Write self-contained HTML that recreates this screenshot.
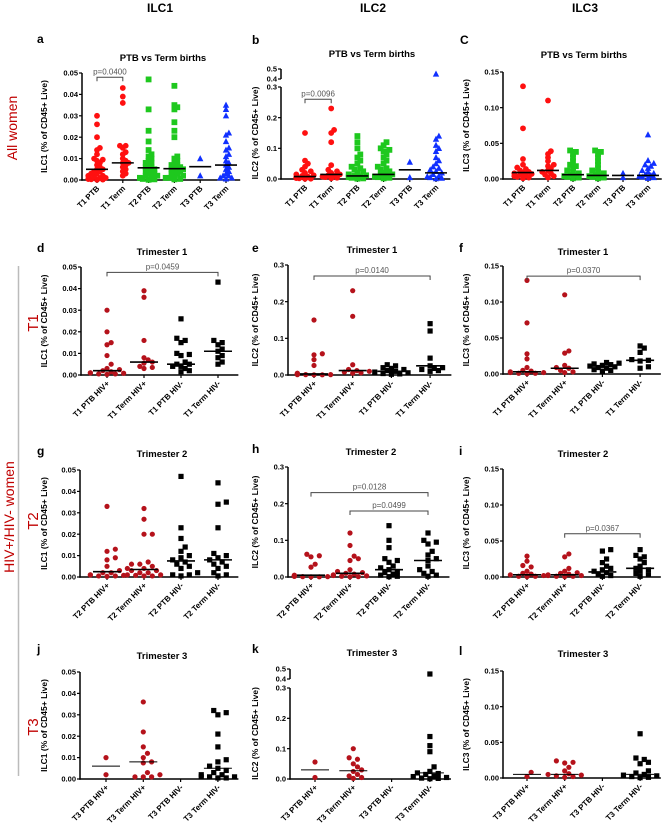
<!DOCTYPE html>
<html><head><meta charset="utf-8">
<style>
html,body{margin:0;padding:0;background:#fff;}
svg{display:block;font-family:"Liberation Sans",Arial,sans-serif;}
</style></head>
<body>
<svg id="fig" width="667" height="828" viewBox="0 0 667 828" xmlns="http://www.w3.org/2000/svg">
<text x="160" y="12" font-size="12" font-weight="bold" text-anchor="middle">ILC1</text>
<text x="373" y="12" font-size="12" font-weight="bold" text-anchor="middle">ILC2</text>
<text x="585" y="12" font-size="12" font-weight="bold" text-anchor="middle">ILC3</text>
<text transform="translate(17,128) rotate(-90)" font-size="14" fill="#c00000" text-anchor="middle">All women</text>
<text transform="translate(14,517) rotate(-90)" font-size="14" fill="#c00000" text-anchor="middle">HIV+/HIV- women</text>
<line x1="18.5" y1="266" x2="18.5" y2="776" stroke="#bbb" stroke-width="1.5"/>
<text transform="translate(38,323) rotate(-90)" font-size="15" fill="#c00000" text-anchor="middle">T1</text>
<text transform="translate(38,521) rotate(-90)" font-size="15" fill="#c00000" text-anchor="middle">T2</text>
<text transform="translate(38,727) rotate(-90)" font-size="15" fill="#c00000" text-anchor="middle">T3</text>
</svg>
<script>
// ---------- DATA ----------
const catsAll1 = ["T1 PTB","T1 Term","T2 PTB","T2 Term","T3 PTB","T3 Term"];
const catsT1 = ["T1 PTB HIV+","T1 Term HIV+","T1 PTB HIV-","T1 Term HIV-"];
const catsT2 = ["T2 PTB HIV+","T2 Term HIV+","T2 PTB HIV-","T2 Term HIV-"];
const catsT3 = ["T3 PTB HIV+","T3 Term HIV+","T3 PTB HIV-","T3 Term HIV-"];
const ticksILC1 = ["0.00","0.01","0.02","0.03","0.04","0.05"];
const ticksILC2 = ["0.0","0.1","0.2","0.3"];
const ticksILC2Break = ["0.4","0.5"];
const ticksILC3 = ["0.00","0.05","0.10","0.15"];

const aValues = [
 [0.030,0.026,0.020,0.015,0.014,0.012,0.010,0.0095,0.009,0.008,0.007,0.006,0.005,0.005,0.004,0.004,0.003,0.003,0.002,0.002,0.0015,0.001,0.001,0.0005,0.0005,0.0003,0.0002,0.0001],
 [0.043,0.039,0.036,0.016,0.016,0.015,0.013,0.012,0.010,0.009,0.008,0.008,0.007,0.006,0.005,0.004,0.003,0.002],
 [0.047,0.033,0.023,0.018,0.014,0.012,0.011,0.010,0.009,0.008,0.008,0.007,0.006,0.006,0.005,0.005,0.004,0.004,0.003,0.003,0.002,0.002,0.0015,0.001,0.001,0.0005,0.0003,0.0001],
 [0.044,0.035,0.034,0.033,0.027,0.023,0.020,0.011,0.010,0.009,0.008,0.007,0.007,0.006,0.006,0.005,0.005,0.005,0.004,0.004,0.003,0.003,0.002,0.002,0.001,0.001,0.0005,0.0003],
 [0.010,0.002],
 [0.035,0.033,0.030,0.022,0.021,0.018,0.015,0.014,0.012,0.011,0.009,0.008,0.007,0.006,0.005,0.004,0.003,0.002,0.002,0.001,0.001,0.0005]];
const aMedians = [0.005,0.008,0.0057,0.0053,0.0062,0.007];
const bValues = [
 [0.15,0.06,0.05,0.04,0.03,0.025,0.02,0.015,0.012,0.01,0.008,0.006,0.005,0.004,0.003,0.002,0.001,0.0005],
 [0.23,0.16,0.15,0.12,0.045,0.03,0.025,0.02,0.015,0.012,0.01,0.008,0.006,0.004,0.002],
 [0.14,0.12,0.10,0.08,0.07,0.06,0.05,0.04,0.035,0.03,0.025,0.02,0.015,0.012,0.01,0.008,0.006,0.004,0.002,0.001],
 [0.12,0.11,0.10,0.095,0.09,0.08,0.07,0.06,0.05,0.04,0.035,0.03,0.025,0.02,0.015,0.012,0.01,0.008,0.006,0.004,0.002],
 [0.055,0.005],
 [0.45,0.14,0.13,0.11,0.10,0.09,0.07,0.06,0.05,0.04,0.035,0.03,0.025,0.02,0.015,0.01,0.008,0.005,0.003,0.001]];
const bMedians = [0.008,0.015,0.01,0.015,0.03,0.02];
const cValues = [
 [0.13,0.071,0.028,0.02,0.016,0.014,0.012,0.01,0.009,0.008,0.007,0.006,0.005,0.004,0.003,0.002,0.001],
 [0.11,0.039,0.035,0.03,0.025,0.02,0.018,0.015,0.012,0.01,0.008,0.006,0.004,0.002],
 [0.04,0.038,0.035,0.03,0.025,0.02,0.018,0.015,0.012,0.01,0.008,0.006,0.005,0.004,0.003,0.002,0.001],
 [0.04,0.038,0.035,0.03,0.025,0.02,0.015,0.012,0.01,0.008,0.006,0.005,0.004,0.003,0.002,0.001],
 [0.008,0.002],
 [0.062,0.026,0.022,0.02,0.018,0.015,0.012,0.01,0.008,0.006,0.005,0.004,0.003,0.002,0.001]];
const cMedians = [0.009,0.012,0.006,0.005,0.005,0.005];
const dValues = [
 [0.030,0.020,0.015,0.014,0.009,0.005,0.003,0.0025,0.002,0.0015,0.001,0.001,0.0008,0.0005,0.0005,0.0003],
 [0.039,0.036,0.016,0.008,0.007,0.006,0.0055,0.004,0.0035,0.003],
 [0.026,0.017,0.016,0.015,0.010,0.0095,0.009,0.006,0.005,0.005,0.004,0.004,0.003,0.002,0.0015],
 [0.043,0.016,0.015,0.014,0.012,0.011,0.009,0.008,0.006,0.005]];
const dMedians = [0.002,0.006,0.005,0.011];
const eValues = [
 [0.15,0.058,0.055,0.042,0.026,0.005,0.004,0.003,0.002,0.002,0.001,0.001,0.001,0.0005,0.0005],
 [0.23,0.16,0.028,0.015,0.012,0.01,0.008,0.006,0.005],
 [0.028,0.025,0.02,0.018,0.015,0.012,0.01,0.008,0.006,0.004,0.003,0.002],
 [0.14,0.12,0.046,0.025,0.02,0.018,0.015,0.012,0.01]];
const eMedians = [0.003,0.012,0.01,0.025];
const fValues = [
 [0.13,0.071,0.028,0.021,0.009,0.005,0.004,0.003,0.002,0.002,0.001,0.001,0.0005],
 [0.11,0.032,0.029,0.012,0.009,0.008,0.005,0.003,0.002],
 [0.016,0.015,0.014,0.013,0.012,0.011,0.01,0.009,0.008,0.006,0.005,0.004],
 [0.039,0.036,0.03,0.02,0.019,0.018,0.01,0.008]];
const fMedians = [0.003,0.008,0.011,0.019];
const gValues = [
 [0.033,0.013,0.012,0.009,0.008,0.005,0.003,0.002,0.002,0.001,0.001,0.0008,0.0005,0.0005,0.0003],
 [0.032,0.027,0.020,0.020,0.007,0.006,0.006,0.005,0.004,0.004,0.003,0.003,0.002,0.002,0.001,0.001,0.0008,0.0005,0.0005],
 [0.047,0.023,0.018,0.014,0.012,0.01,0.009,0.008,0.007,0.006,0.005,0.004,0.002,0.001,0.001,0.0005],
 [0.044,0.035,0.034,0.023,0.011,0.010,0.009,0.008,0.007,0.006,0.005,0.004,0.002,0.001,0.0005]];
const gMedians = [0.0025,0.0035,0.0075,0.008];
const hValues = [
 [0.062,0.058,0.055,0.035,0.027,0.005,0.004,0.003,0.002,0.002,0.001,0.001,0.0005,0.0005],
 [0.12,0.086,0.057,0.05,0.045,0.02,0.015,0.012,0.01,0.008,0.006,0.005,0.004,0.003,0.002,0.001,0.0005],
 [0.14,0.10,0.08,0.05,0.045,0.04,0.03,0.025,0.02,0.015,0.012,0.008,0.005,0.002,0.001],
 [0.12,0.10,0.095,0.09,0.07,0.06,0.05,0.045,0.03,0.02,0.015,0.01,0.005,0.002]];
const hMedians = [0.005,0.01,0.02,0.045];
const iValues = [
 [0.029,0.022,0.016,0.014,0.008,0.005,0.004,0.003,0.002,0.001,0.001,0.0005],
 [0.032,0.028,0.012,0.008,0.006,0.005,0.004,0.003,0.002,0.002,0.001,0.001,0.0005],
 [0.038,0.036,0.025,0.02,0.015,0.012,0.01,0.008,0.006,0.004,0.002,0.001],
 [0.038,0.03,0.028,0.025,0.02,0.015,0.012,0.01,0.008,0.005,0.003,0.001]];
const iMedians = [0.003,0.003,0.007,0.012];
const jValues = [
 [0.010,0.002],
 [0.036,0.022,0.015,0.012,0.010,0.008,0.0075,0.003,0.002,0.001,0.001,0.001],
 [],
 [0.032,0.031,0.030,0.021,0.015,0.009,0.008,0.006,0.005,0.004,0.003,0.002,0.002,0.001,0.001,0.001,0.0005,0.0005]];
const jMedians = [0.006,0.008,null,0.005];
const kValues = [
 [0.056,0.005],
 [0.10,0.07,0.065,0.05,0.04,0.03,0.025,0.015,0.01,0.005,0.002],
 [],
 [0.45,0.14,0.11,0.09,0.04,0.025,0.02,0.018,0.015,0.01,0.008,0.005,0.003,0.002,0.001]];
const kMedians = [0.03,0.027,null,0.02];
const lValues = [
 [0.008,0.002],
 [0.024,0.022,0.021,0.015,0.01,0.006,0.005,0.004,0.003,0.002,0.001],
 [],
 [0.062,0.028,0.026,0.022,0.02,0.01,0.007,0.005,0.004,0.003,0.002,0.001,0.0005]];
const lMedians = [0.005,0.005,null,0.005];
// p-value brackets: [from index, to index, y value, label]
const aP = [[0,1,0.048,"p=0.0400"]];
const bP = [[0,1,0.26,"p=0.0096"]];
const dP = [[0,3,0.0475,"p=0.0459"]];
const eP = [[0,3,0.27,"p=0.0140"]];
const fP = [[0,3,0.136,"p=0.0370"]];
const hP = [[0,3,0.23,"p=0.0128"],[1,3,0.18,"p=0.0499"]];
const iP = [[1,3,0.06,"p=0.0367"]];

// ---------- STYLE / LAYOUT ----------
const RED="#ff1010", GREEN="#1ec81e", BLUE="#1030ff", DRED="#b5121b", BLK="#000";
const styleAll = [["circle",RED],["circle",RED],["square",GREEN],["square",GREEN],["triangle",BLUE],["triangle",BLUE]];
const styleHiv = [["circle",DRED],["circle",DRED],["square",BLK],["square",BLK]];
const panels = [
 {id:"a",letter:"a",lx:37,ly:43,title:"PTB vs Term births",tx:163,ty:61,ax:82,y0:180,yT:73,cx0:97,dx:25.8,cats:catsAll1,vals:aValues,med:aMedians,max:0.05,ticks:ticksILC1,yt:"ILC1 (% of CD45+ Live)",ytx:47,st:styleAll,p:aP,mw:22,dense:true},
 {id:"b",letter:"b",lx:252,ly:44,title:"PTB vs Term births",tx:372,ty:57,ax:281,y0:179,yT:87,y4:79,y5:69,cx0:305,dx:26.2,cats:catsAll1,vals:bValues,med:bMedians,max:0.3,ticks:ticksILC2,brk:true,yt:"ILC2 (% of CD45+ Live)",ytx:258,st:styleAll,p:bP,mw:22,dense:true},
 {id:"c",letter:"C",lx:460,ly:44,title:"PTB vs Term births",tx:584,ty:58,ax:503,y0:179,yT:72,cx0:523,dx:25,cats:catsAll1,vals:cValues,med:cMedians,max:0.15,ticks:ticksILC3,yt:"ILC3 (% of CD45+ Live)",ytx:469,st:styleAll,p:[],mw:22,dense:true},
 {id:"d",letter:"d",lx:37,ly:252,title:"Trimester 1",tx:162,ty:255,ax:81,y0:375,yT:267,cx0:107,dx:37,cats:catsT1,vals:dValues,med:dMedians,max:0.05,ticks:ticksILC1,yt:"ILC1 (% of CD45+ Live)",ytx:47,st:styleHiv,p:dP,mw:28},
 {id:"e",letter:"e",lx:252,ly:252,title:"Trimester 1",tx:372,ty:253,ax:288,y0:375,yT:265,cx0:314,dx:38.7,cats:catsT1,vals:eValues,med:eMedians,max:0.3,ticks:ticksILC2,yt:"ILC2 (% of CD45+ Live)",ytx:258,st:styleHiv,p:eP,mw:28},
 {id:"f",letter:"f",lx:459,ly:252,title:"Trimester 1",tx:583,ty:255,ax:503,y0:374,yT:266,cx0:527,dx:37.7,cats:catsT1,vals:fValues,med:fMedians,max:0.15,ticks:ticksILC3,yt:"ILC3 (% of CD45+ Live)",ytx:469,st:styleHiv,p:fP,mw:28},
 {id:"g",letter:"g",lx:37,ly:455,title:"Trimester 2",tx:162,ty:457,ax:80,y0:577,yT:470,cx0:107,dx:37,cats:catsT2,vals:gValues,med:gMedians,max:0.05,ticks:ticksILC1,yt:"ILC1 (% of CD45+ Live)",ytx:47,st:styleHiv,p:[],mw:28},
 {id:"h",letter:"h",lx:252,ly:453,title:"Trimester 2",tx:371,ty:455,ax:288,y0:577,yT:467,cx0:311,dx:39,cats:catsT2,vals:hValues,med:hMedians,max:0.3,ticks:ticksILC2,yt:"ILC2 (% of CD45+ Live)",ytx:258,st:styleHiv,p:hP,mw:28},
 {id:"i",letter:"i",lx:459,ly:455,title:"Trimester 2",tx:583,ty:457,ax:503,y0:577,yT:469,cx0:527,dx:37.7,cats:catsT2,vals:iValues,med:iMedians,max:0.15,ticks:ticksILC3,yt:"ILC3 (% of CD45+ Live)",ytx:469,st:styleHiv,p:iP,mw:28},
 {id:"j",letter:"j",lx:37,ly:653,title:"Trimester 3",tx:162,ty:659,ax:80,y0:779,yT:672,cx0:106,dx:37.3,cats:catsT3,vals:jValues,med:jMedians,max:0.05,ticks:ticksILC1,yt:"ILC1 (% of CD45+ Live)",ytx:47,st:styleHiv,p:[],mw:28,thin:true},
 {id:"k",letter:"k",lx:252,ly:653,title:"Trimester 3",tx:372,ty:656,ax:290,y0:779,yT:688,y4:679,y5:669,cx0:315,dx:38.3,cats:catsT3,vals:kValues,med:kMedians,max:0.3,ticks:ticksILC2,brk:true,yt:"ILC2 (% of CD45+ Live)",ytx:258,st:styleHiv,p:[],mw:28,thin:true},
 {id:"l",letter:"l",lx:459,ly:655,title:"Trimester 3",tx:583,ty:657,ax:503,y0:778,yT:671,cx0:527,dx:37.7,cats:catsT3,vals:lValues,med:lMedians,max:0.15,ticks:ticksILC3,yt:"ILC3 (% of CD45+ Live)",ytx:469,st:styleHiv,p:[],mw:28,thin:true}
];

const NS="http://www.w3.org/2000/svg";
const svg=document.getElementById("fig");
function mk(tag,attrs,parent){const e=document.createElementNS(NS,tag);for(const k in attrs)e.setAttribute(k,attrs[k]);(parent||svg).appendChild(e);return e;}

function yScale(P,v){
  if(P.brk && v>0.3){return P.y4+(v-0.4)/0.1*(P.y5-P.y4);}
  return P.y0-(v/P.max)*(P.y0-P.yT);
}
function xScale(P,i){return P.cx0+i*P.dx;}

panels.forEach(P=>{
  const g=mk("g",{});
  
  
  const L=mk("text",{x:P.lx,y:P.ly,"font-size":12,"font-weight":"bold"},g);L.textContent=P.letter;
  
  
  const T=mk("text",{x:P.tx,y:P.ty,"font-size":9.5,"font-weight":"bold","text-anchor":"middle"},g);T.textContent=P.title;
  
  
  const n=P.cats.length;
  const xEnd=xScale(P,n-1)+P.dx*0.55;
  const ya=mk("line",{x1:P.ax,y1:P.y0+0.75,x2:P.ax,y2:P.yT,stroke:"#000","stroke-width":1.5},g);
  
  
  const xa=mk("line",{x1:P.ax-0.75,y1:P.y0,x2:xEnd,y2:P.y0,stroke:"#000","stroke-width":1.5},g);
  
  
  const tickVals=P.ticks.map(Number);
  let allTicks=P.ticks.map((t,i)=>[t,tickVals[i]]);
  if(P.brk){
    mk("line",{x1:P.ax,y1:P.y4,x2:P.ax,y2:P.y5,stroke:"#000","stroke-width":1.5},g);
    ticksILC2Break.forEach(t=>allTicks.push([t,Number(t)]));
  }
  allTicks.forEach(([lab,v])=>{
    const y=yScale(P,v);
    mk("line",{x1:P.ax-3,y1:y,x2:P.ax,y2:y,stroke:"#000","stroke-width":1.2},g);
    const tl=mk("text",{x:P.ax-4,y:y+2.6,"font-size":7.5,"font-weight":"bold","text-anchor":"end"},g);tl.textContent=lab;
    
    
  });
  const yt=mk("text",{transform:`translate(${P.ytx},${(P.y0+P.yT)/2}) rotate(-90)`,"font-size":8.5,"font-weight":"bold","text-anchor":"middle"},g);
  yt.textContent=P.yt;
  
  
  P.cats.forEach((c,i)=>{
    const x=xScale(P,i);
    mk("line",{x1:x,y1:P.y0,x2:x,y2:P.y0+3,stroke:"#000","stroke-width":1.2},g);
    const xl=mk("text",{transform:`translate(${x+3},${P.y0+9}) rotate(-45)`,"font-size":8,"font-weight":"bold","text-anchor":"end"},g);
    xl.textContent=c;
    
    
  });
  const r=P.dense?2.9:2.6;
  const coll=P.dense?1.15:1.8;
  const step=P.dense?1.0:1.6;
  const half=P.dx*(P.dense?0.4:0.45);
  P.vals.forEach((arr,i)=>{
    const cx=xScale(P,i);
    const [shape,col]=P.st[i];
    const placed=[];
    arr.slice().sort((a,b)=>a-b).forEach(v=>{
      const py=yScale(P,v);
      let ox=0;
      for(let k=0;k<40;k++){
        const cand=(k%2?1:-1)*Math.ceil(k/2)*r*step;
        if(Math.abs(cand)>half){continue;}
        if(!placed.some(p=>Math.hypot(p[0]-(cx+cand),p[1]-py)<r*coll)){ox=cand;break;}
        ox=cand;
      }
      const px=cx+ox;placed.push([px,py]);
      let m;
      if(shape==="circle") m=mk("circle",{cx:px,cy:py,r:r,fill:col},g);
      else if(shape==="square") m=mk("rect",{x:px-r,y:py-r,width:2*r,height:2*r,fill:col},g);
      else m=mk("polygon",{points:`${px},${py-r*1.2} ${px-r*1.1},${py+r*0.9} ${px+r*1.1},${py+r*0.9}`,fill:col},g);
      
      
    });
    const md=P.med[i];
    if(md!==null&&md!==undefined){
      const y=yScale(P,md);
      const ml=mk("line",{x1:cx-P.mw/2,y1:y,x2:cx+P.mw/2,y2:y,stroke:"#000","stroke-width":P.thin?1:1.6},g);
      
      
    }
  });
  P.p.forEach(([a,b,v,lab])=>{
    const y=yScale(P,v), x1=xScale(P,a), x2=xScale(P,b);
    const br=mk("path",{d:`M${x1},${y+4}V${y}H${x2}V${y+4}`,fill:"none",stroke:"#444","stroke-width":1},g);
    
    
    const pt=mk("text",{x:(x1+x2)/2,y:y-3,"font-size":8,fill:"#555","text-anchor":"middle"},g);
    pt.textContent=lab;
    
    
  });
});
</script>
</body></html>
